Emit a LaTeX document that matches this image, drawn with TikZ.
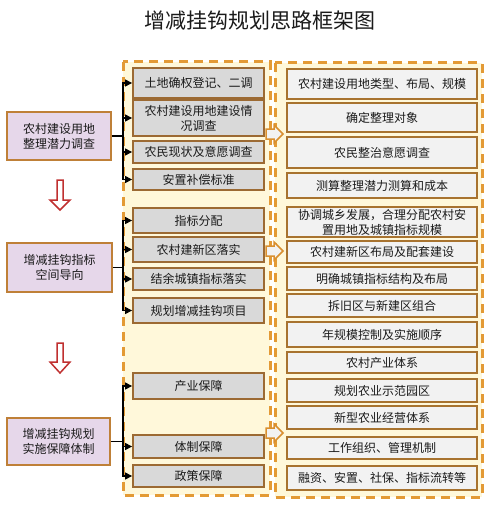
\documentclass[tikz,border=0pt]{standalone}
\usepackage{fontspec}
\setmainfont{Noto Sans CJK SC}
\usetikzlibrary{arrows.meta}
\definecolor{purplefill}{HTML}{E6D7EA}
\definecolor{leftborder}{HTML}{BF8038}
\definecolor{midfill}{HTML}{D9D9D9}
\definecolor{midborder}{HTML}{9C6A33}
\definecolor{rightfill}{HTML}{F2F2F2}
\definecolor{rightborder}{HTML}{A8732F}
\definecolor{dashfill}{HTML}{FFF8DA}
\definecolor{dashcol}{HTML}{E39A35}
\definecolor{baborder}{HTML}{D98F2F}
\definecolor{redarrow}{HTML}{C03030}
\definecolor{txt}{HTML}{1A1A1A}
\tikzset{
  txtfont/.style={font=\fontsize{12}{15}\selectfont, text=txt, align=center, inner sep=0pt},
  leftbox/.style={txtfont, draw=leftborder, fill=purplefill, line width=1.8pt},
  midbox/.style={txtfont, draw=midborder, fill=midfill, line width=1.8pt, minimum width=131pt},
  rightbox/.style={txtfont, draw=rightborder, fill=rightfill, line width=1.8pt, minimum width=190pt},
  dashbox/.style={draw=dashcol, fill=dashfill, line width=3pt, dash pattern=on 9pt off 6pt},
  conn/.style={draw=black, line width=1.1pt, -{Triangle[length=7pt,width=7pt]}},
  bus/.style={draw=black, line width=1.1pt},
  blockarrow/.style={draw=baborder, fill=rightfill, line width=1.5pt, line join=miter},
  redarr/.style={draw=redarrow, fill=white, line width=1.5pt, line join=miter},
}
\begin{document}
\begin{tikzpicture}[x=1pt,y=-1pt]
\useasboundingbox (0,0) rectangle (493,508);
\fill[white] (0,0) rectangle (493,508);

% title
\node[font=\fontsize{21}{24}\selectfont, text=txt, inner sep=0pt] (title) at (260,21) {增减挂钩规划思路框架图};

% dashed containers
\draw[dashbox] (123,62) rectangle (270,495);
\draw[dashbox] (275,63) rectangle (482,497);

% left boxes
\node[leftbox, minimum width=104pt, minimum height=48pt] (l1) at (59,136) {农村建设用地\\整理潜力调查};
\node[leftbox, minimum width=105pt, minimum height=49pt] (l2) at (59.5,267.5) {增减挂钩指标\\空间导向};
\node[leftbox, minimum width=103pt, minimum height=47pt] (l3) at (58.5,441.5) {增减挂钩规划\\实施保障体制};

% middle boxes
\node[midbox, minimum height=30pt] (m1) at (198.5,83) {土地确权登记、二调};
\node[midbox, minimum height=36pt] (m2) at (198.5,118) {农村建设用地建设情\\况调查};
\node[midbox, minimum height=22pt] (m3) at (198.5,152) {农民现状及意愿调查};
\node[midbox, minimum height=21pt] (m4) at (198.5,179.5) {安置补偿标准};
\node[midbox, minimum height=25pt] (m5) at (198.5,220.5) {指标分配};
\node[midbox, minimum height=25pt] (m6) at (198.5,249.5) {农村建新区落实};
\node[midbox, minimum height=22pt] (m7) at (198.5,279) {结余城镇指标落实};
\node[midbox, minimum height=25pt] (m8) at (198.5,310.5) {规划增减挂钩项目};
\node[midbox, minimum height=26pt] (m9) at (198.5,386) {产业保障};
\node[midbox, minimum height=23pt] (m10) at (198.5,446.5) {体制保障};
\node[midbox, minimum height=22pt] (m11) at (198.5,476) {政策保障};

% right boxes
\node[rightbox, minimum height=30pt] (r1) at (382,84) {农村建设用地类型、布局、规模};
\node[rightbox, minimum height=29pt] (r2) at (382,117.5) {确定整理对象};
\node[rightbox, minimum height=31pt] (r3) at (382,152.5) {农民整治意愿调查};
\node[rightbox, minimum height=25pt] (r4) at (382,185.5) {测算整理潜力测算和成本};
\node[rightbox, minimum height=30pt] (r5) at (382,222) {协调城乡发展，合理分配农村安\\置用地及城镇指标规模};
\node[rightbox, minimum height=22pt] (r6) at (382,252) {农村建新区布局及配套建设};
\node[rightbox, minimum height=23pt] (r7) at (382,278.5) {明确城镇指标结构及布局};
\node[rightbox, minimum height=23pt] (r8) at (382,305.5) {拆旧区与新建区组合};
\node[rightbox, minimum height=25pt] (r9) at (382,334.5) {年规模控制及实施顺序};
\node[rightbox, minimum height=21pt] (r10) at (382,362.5) {农村产业体系};
\node[rightbox, minimum height=23pt] (r11) at (382,390.5) {规划农业示范园区};
\node[rightbox, minimum height=23pt] (r12) at (382,417.5) {新型农业经营体系};
\node[rightbox, minimum height=22pt] (r13) at (382,448) {工作组织、管理机制};
\node[rightbox, minimum height=24pt] (r14) at (382,478) {融资、安置、社保、指标流转等};

% connectors group 1
\coordinate (b1) at (123,136);
\draw[bus] (l1.east) -- (b1);
\foreach \m in {m1,m2,m3,m4} \draw[conn] (b1) |- (\m.west);
% group 2
\coordinate (b2) at (123,267.5);
\draw[bus] (l2.east) -- (b2);
\foreach \m in {m5,m6,m7,m8} \draw[conn] (b2) |- (\m.west);
% group 3
\coordinate (b3) at (123,441.5);
\draw[bus] (l3.east) -- (b3);
\foreach \m in {m9,m10,m11} \draw[conn] (b3) |- (\m.west);

% block arrows between containers
\foreach \cy in {134,251,433}{
  \draw[blockarrow] (266,\cy-5) -- (274,\cy-5) -- (274,\cy-9) -- (283,\cy) -- (274,\cy+9) -- (274,\cy+5) -- (266,\cy+5) -- cycle;
}

% red down arrows
\draw[redarr] (57,180) -- (63,180) -- (63,200) -- (70,200) -- (60,210) -- (50,200) -- (57,200) -- cycle;
\draw[redarr] (57,343) -- (63,343) -- (63,362) -- (70,362) -- (60,373) -- (50,362) -- (57,362) -- cycle;
\end{tikzpicture}
\end{document}
